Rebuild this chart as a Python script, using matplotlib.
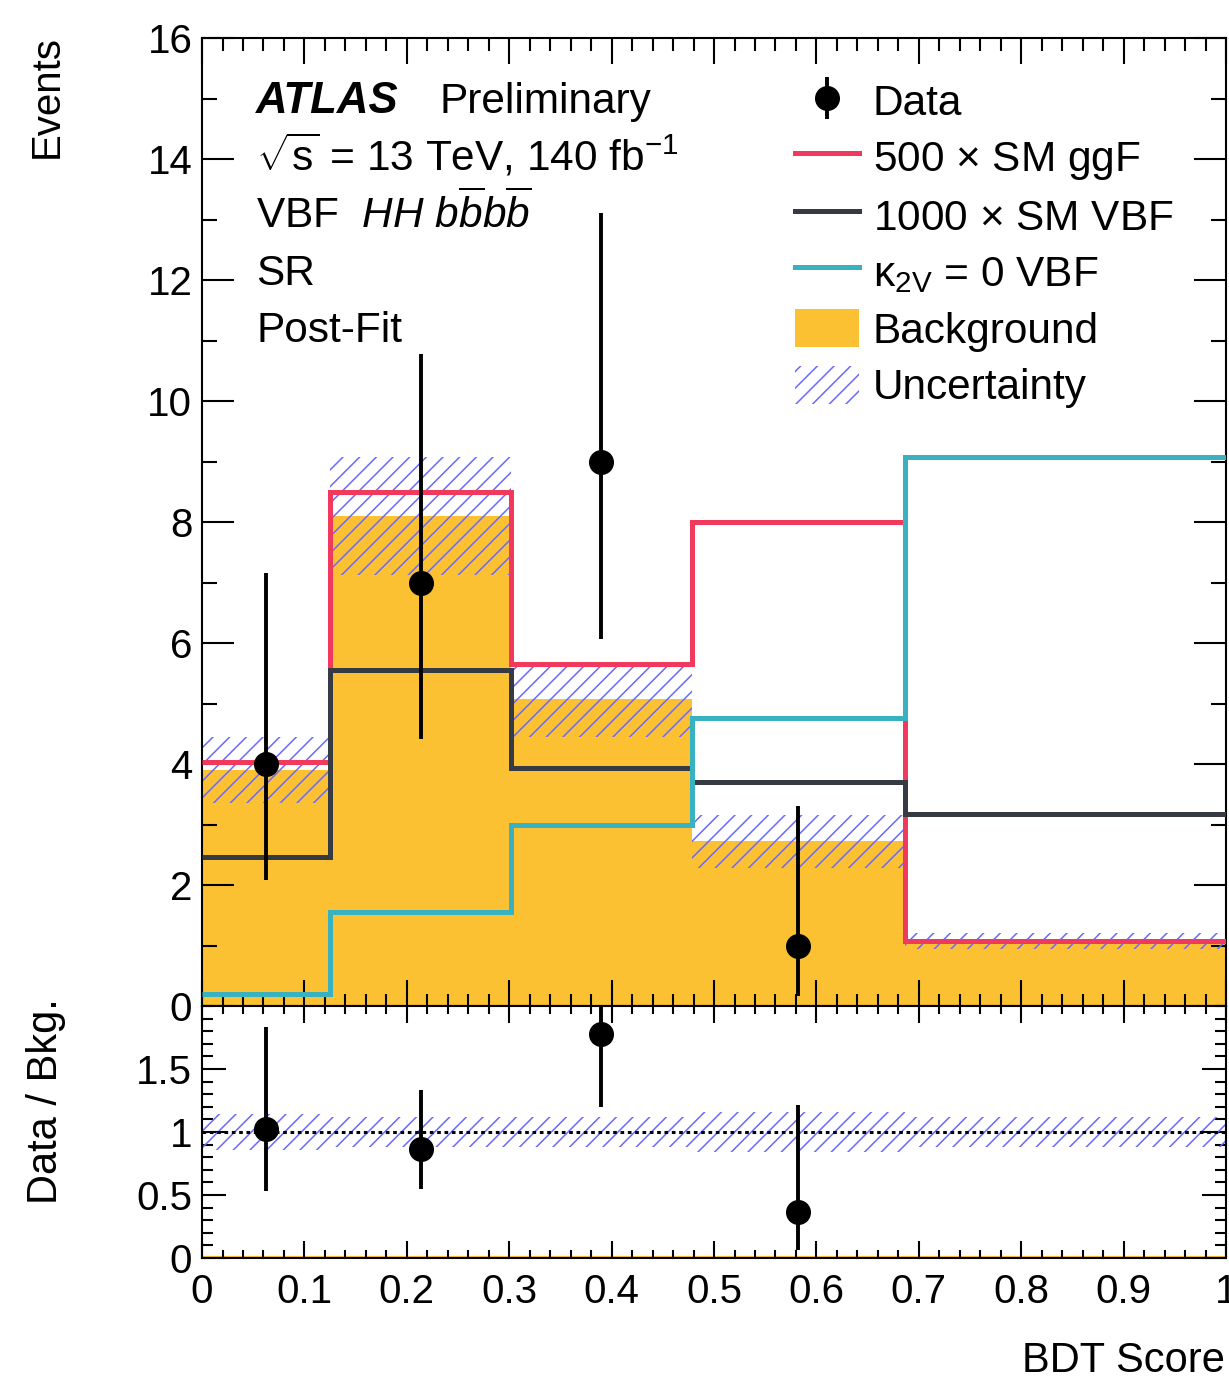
import numpy as np
import matplotlib.pyplot as plt
from matplotlib.ticker import MultipleLocator, FuncFormatter

plt.rcParams['font.family'] = ['Liberation Sans', 'DejaVu Sans']
plt.rcParams['mathtext.fontset'] = 'custom'
plt.rcParams['mathtext.rm'] = 'Liberation Sans'
plt.rcParams['mathtext.it'] = 'Liberation Sans:italic'
plt.rcParams['mathtext.bf'] = 'Liberation Sans:bold'
plt.rcParams['hatch.linewidth'] = 1.1

# BDT score binning
edges = np.array([0.0, 0.125, 0.302, 0.478, 0.686, 1.0])

# post-fit background and its uncertainty
bkg = np.array([3.90, 8.10, 5.07, 2.72, 1.07])
bkg_err = np.array([0.55, 0.98, 0.62, 0.44, 0.13])

# scaled signal hypotheses
ggf_500 = np.array([4.04, 8.49, 5.65, 8.00, 1.08])
vbf_1000 = np.array([2.46, 5.55, 3.93, 3.70, 3.17])
k2v0_vbf = np.array([0.20, 1.55, 2.99, 4.76, 9.07])

# observed events with asymmetric poisson errors (last bin empty)
data = np.array([4, 7, 9, 1])
data_lo = np.array([1.91, 2.58, 2.94, 0.83])
data_hi = np.array([3.16, 3.77, 4.11, 2.30])

yellow = '#fcc133'
red = '#f0395c'
dark = '#363a43'
cyan = '#38b1c0'
hatch_col = '#6a6aff'
fs = 29      # tick labels
fs_txt = 30.5  # labels, legend

centers = 0.5 * (edges[:-1] + edges[1:])[:len(data)]
widths = np.diff(edges)

fig = plt.figure(figsize=(12.29, 13.77), dpi=100)
ax = fig.add_axes([0.1644, 0.2694, 0.8332, 0.7030])
ax2 = fig.add_axes([0.1644, 0.0864, 0.8332, 0.1830])

# main panel
h_bkg = ax.stairs(bkg, edges, fill=True, color=yellow, zorder=1)
h_unc = ax.bar(edges[:-1], 2 * bkg_err, width=widths, bottom=bkg - bkg_err, align='edge',
               facecolor='none', edgecolor=hatch_col, hatch='//', linewidth=0, zorder=2)
h_ggf = ax.stairs(ggf_500, edges, color=red, lw=3.6, baseline=None, zorder=3)
h_vbf = ax.stairs(vbf_1000, edges, color=dark, lw=3.6, baseline=None, zorder=3)
h_k2v = ax.stairs(k2v0_vbf, edges, color=cyan, lw=3.6, baseline=None, zorder=3)
h_data = ax.errorbar(centers, data, yerr=[data_lo, data_hi], fmt='o', color='k',
                     ms=17, elinewidth=2.8, capsize=0, zorder=5)

ax.set_xlim(0, 1)
ax.set_ylim(0, 16)

lines = [
    (0.9225, None),
    (0.8633, r'$\sqrt{\mathrm{s}}$ = 13 TeV, 140 fb$^{\mathrm{-1}}$'),
    (0.8040, r'VBF  $HH\ b\overline{b}b\overline{b}$'),
    (0.7448, 'SR'),
    (0.6856, 'Post-Fit'),
]
ax.text(0.0527, lines[0][0], 'ATLAS', transform=ax.transAxes, fontsize=31.5,
        fontweight='bold', fontstyle='italic', va='baseline')
ax.text(0.2314, lines[0][0], 'Preliminary', transform=ax.transAxes, fontsize=fs_txt, va='baseline')
for y, s in lines[1:]:
    ax.text(0.0527, y, s, transform=ax.transAxes, fontsize=fs_txt, va='baseline')

ax.legend([h_data, h_ggf, h_vbf, h_k2v, h_bkg, h_unc[0]],
          ['Data', r'500 $\times$ SM ggF', r'1000 $\times$ SM VBF',
           r'$\mathrm{\kappa}_{\mathrm{2V}}$ = 0 VBF', 'Background', 'Uncertainty'],
          loc='upper left', bbox_to_anchor=(0.579, 0.955), frameon=False, fontsize=fs_txt,
          handlelength=1.51, handleheight=1.0, handletextpad=0.33, labelspacing=0.33,
          borderpad=0, borderaxespad=0)

# ratio panel
rel = bkg_err / bkg
ax2.bar(edges[:-1], 2 * rel, width=widths, bottom=1 - rel, align='edge',
        facecolor='none', edgecolor=hatch_col, hatch='//', linewidth=0, zorder=2)
ax2.axhline(1, color='k', ls=(0, (1.2, 1.2)), lw=2.2, zorder=3)
ax2.axhline(0, color=yellow, lw=3, zorder=1)
ax2.errorbar(centers, data / bkg[:len(data)],
             yerr=[data_lo / bkg[:len(data)], data_hi / bkg[:len(data)]],
             fmt='o', color='k', ms=17, elinewidth=2.8, capsize=0, zorder=5)
ax2.set_xlim(0, 1)
ax2.set_ylim(0, 2)

fmt = FuncFormatter(lambda v, p: '%g' % round(v, 3))
for a in (ax, ax2):
    a.xaxis.set_major_locator(MultipleLocator(0.1))
    a.xaxis.set_minor_locator(MultipleLocator(0.02))
    a.tick_params(which='both', direction='in', top=True, right=True, width=1.5,
                  labelsize=fs)
    for sp in a.spines.values():
        sp.set_linewidth(1.5)

ax.yaxis.set_major_locator(MultipleLocator(2))
ax.yaxis.set_minor_locator(MultipleLocator(1))
ax.tick_params(axis='x', labelbottom=False)
ax.tick_params(axis='x', which='major', length=19)
ax.tick_params(axis='x', which='minor', length=9)
ax.tick_params(axis='y', which='major', length=23, pad=7)
ax.tick_params(axis='y', which='minor', length=11)

ax2.set_yticks([0, 0.5, 1, 1.5])
ax2.yaxis.set_minor_locator(MultipleLocator(0.1))
ax2.yaxis.set_major_formatter(fmt)
ax2.xaxis.set_major_formatter(fmt)
ax2.tick_params(axis='x', which='major', length=12, pad=11)
ax2.tick_params(axis='x', which='minor', length=6)
ax2.tick_params(axis='y', which='major', length=17, pad=7)
ax2.tick_params(axis='y', which='minor', length=8)

ax.set_ylabel('Events', loc='top', fontsize=fs)
ax.yaxis.set_label_coords(-0.133, 1.003)
ax2.set_ylabel('Data / Bkg.', loc='top', fontsize=30)
ax2.yaxis.set_label_coords(-0.133, 1.03)
ax2.set_xlabel('BDT Score', loc='right', fontsize=30)
ax2.xaxis.set_label_coords(0.999, -0.33)

fig.savefig('out.png', dpi=100)
